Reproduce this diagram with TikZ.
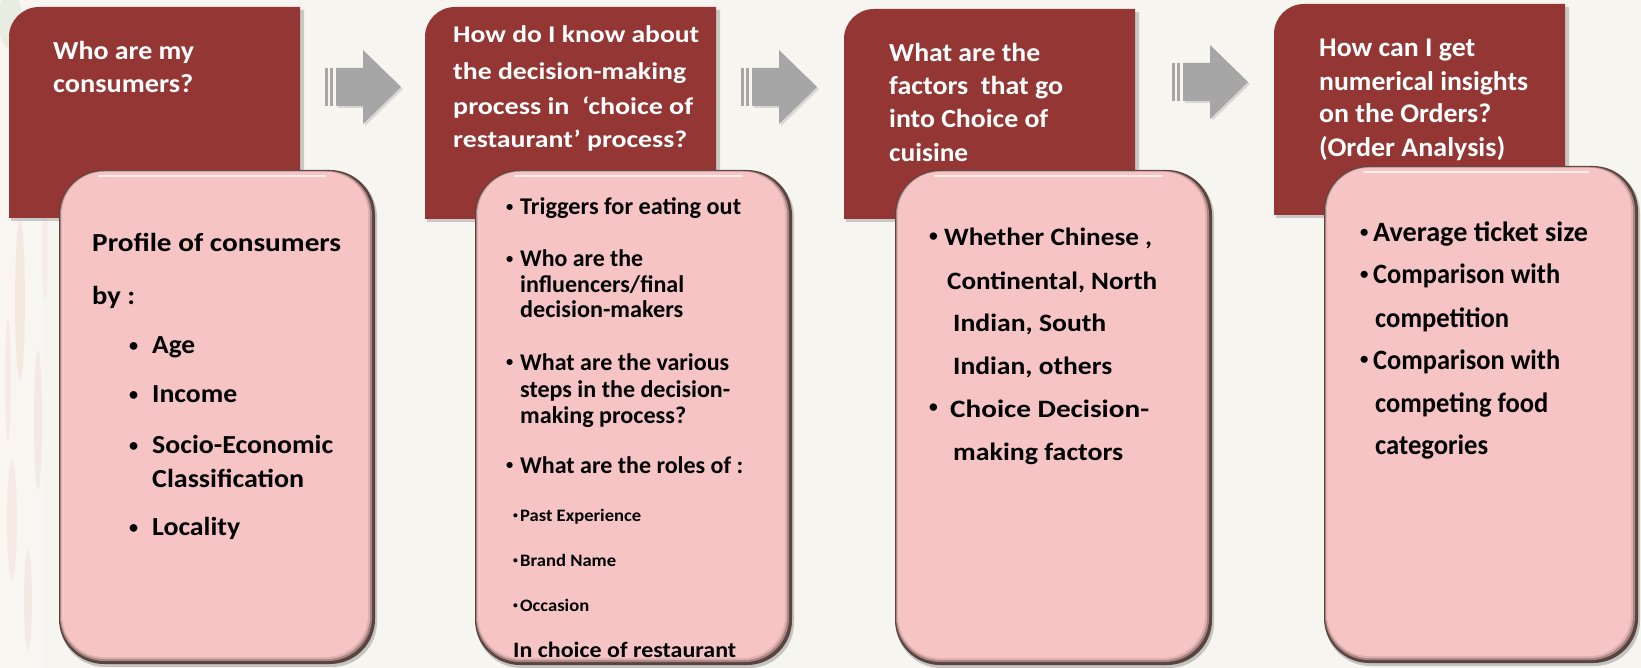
\documentclass[tikz,border=0pt]{standalone}
\usepackage{fontspec}
\setmainfont{Carlito}
\definecolor{bg}{HTML}{F6F5F0}
\definecolor{dred}{HTML}{943634}
\definecolor{pinkf}{HTML}{F6C4C4}
\definecolor{rim1}{HTML}{5A443F}
\definecolor{rim2}{HTML}{A88482}
\definecolor{rim3}{HTML}{DDB0AF}
\definecolor{arrowg}{HTML}{A6A6A6}
\definecolor{streak}{HTML}{E7B9A6}
\newcommand\redbox[4]{%
  \fill[black, opacity=0.18] (#1+2,#4+3) [rounded corners=30] -- (#1+2,#2+3) [sharp corners] -- (#3+4,#2+3) -- (#3+4,#4+3) -- cycle;
  \fill[dred] (#1,#4) [rounded corners=30] -- (#1,#2) [sharp corners] -- (#3,#2) -- (#3,#4) -- cycle;}
\newcommand\pinkbox[4]{%
  \fill[black, opacity=0.2, rounded corners=45] (#1+1,#2+2) rectangle (#3+2,#4+3);
  \fill[rim1, rounded corners=45] (#1,#2) rectangle (#3,#4);
  \fill[rim2, rounded corners=44] (#1+1,#2+1) rectangle (#3-3,#4-3);
  \fill[rim3, rounded corners=43] (#1+2,#2+1.5) rectangle (#3-5,#4-5);
  \fill[pinkf, rounded corners=42] (#1+3,#2+2) rectangle (#3-7,#4-7);
  \draw[white, opacity=0.7, line width=2.5, line cap=round] (#1+40,#2+6) -- (#3-50,#2+6);}
\newcommand\blockarrow[2]{%
  \fill[black, opacity=0.12] (#1+13,#2-17) -- (#1+40,#2-17) -- (#1+40,#2-35) -- (#1+78,#2+2) -- (#1+40,#2+39) -- (#1+40,#2+21) -- (#1+13,#2+21) -- cycle;
  \fill[arrowg] (#1,#2-19) rectangle (#1+3,#2+19);
  \fill[arrowg] (#1+5,#2-19) rectangle (#1+8,#2+19);
  \fill[arrowg] (#1+11,#2-19) -- (#1+38,#2-19) -- (#1+38,#2-37) -- (#1+76,#2) -- (#1+38,#2+37) -- (#1+38,#2+19) -- (#1+11,#2+19) -- cycle;}
\newcommand\bulchar[2]{\raisebox{#1pt}{\scalebox{#2}{•}}}
\begin{document}
\begin{tikzpicture}[x=1pt,y=-1pt,
  txt/.style={anchor=base west, inner sep=0, text=#1},
  fs/.style={font=\bfseries\fontsize{#1}{30}\selectfont},
  bulletnode/.style={anchor=base west, inner sep=0, text=black, font=\bfseries\fontsize{#1}{30}\selectfont}]
\useasboundingbox (0,0) rectangle (1641,668);
\fill[bg] (0,0) rectangle (1641,668);
% faint background picture at the left edge
\shade[left color=bg!80!brown!25, right color=bg] (0,0) rectangle (60,668);
\foreach \sx/\sy/\rx/\ry/\op in {20/300/5/80/0.22, 38/420/4/70/0.2, 12/520/5/60/0.18,
  45/250/3/50/0.15, 28/600/4/50/0.18, 8/380/3/60/0.18}
  \fill[streak, opacity=\op] (\sx,\sy) ellipse (\rx{} and \ry);
\fill[green!25!gray!40, opacity=0.3] (10,20) ellipse (12 and 28);
% boxes
\redbox{9}{7}{300}{218}
\redbox{425}{7}{716}{219}
\redbox{844}{9}{1135}{219}
\redbox{1274}{4}{1565}{215}
\pinkbox{59}{170}{375}{664}
\pinkbox{475}{170}{792}{665}
\pinkbox{895}{170}{1212}{665}
\pinkbox{1324}{166}{1638}{663}
% arrows
\blockarrow{325}{87}
\blockarrow{741}{87}
\blockarrow{1172}{82}
% box 1
\foreach \yy/\ww/\tx [count=\i] in {60/141/Who are my, 93/140/consumers?}
  \node[txt=white, fs=26] (tA\i) at (53,\yy) {\resizebox{\ww pt}{\height}{\tx}};
\foreach \xx/\yy/\ww/\tx [count=\i] in {92/252/249/Profile of consumers, 92/304/43/by :,
  152/353/43/Age, 152/402/85/Income, 152/453/181/Socio-Economic,
  152/487/152/Classification, 152/535/88/Locality}
  \node[txt=black, fs=26] (bA\i) at (\xx,\yy) {\resizebox{\ww pt}{\height}{\tx}};
\foreach \yy [count=\i] in {353,402,453,535}
  \node[bulletnode=26] (uA\i) at (129,\yy) {\bulchar{1.8}{0.7}};
% box 2
\foreach \yy/\ww/\tx [count=\i] in {43/246/How do I know about, 80/233/the decision-making,
  115/240/process in\ \ ‘choice of, 148/234/restaurant’ process?}
  \node[txt=white, fs=24] (tB\i) at (453,\yy) {\resizebox{\ww pt}{\height}{\tx}};
\foreach \yy/\ww/\tx [count=\i] in {215/221/Triggers for eating out,
  267/123/Who are the, 293/164/{influencers/final}, 318/163/decision-makers,
  370/209/What are the various, 397/210/steps in the decision-,
  423/166/making process?, 473/223/What are the roles of :}
  \node[txt=black, fs=24] (bB\i) at (520,\yy) {\resizebox{\ww pt}{\height}{\tx}};
\foreach \yy [count=\i] in {215,267,370,473}
  \node[bulletnode=24] (uB\i) at (506,\yy) {\bulchar{3.6}{0.6}};
\foreach \yy/\ww/\tx [count=\i] in {521/121/Past Experience, 566/96/Brand Name, 611/69/Occasion}
  \node[txt=black, fs=17.5] (sB\i) at (520,\yy) {\resizebox{\ww pt}{\height}{\tx}};
\foreach \yy [count=\i] in {521,566,611}
  \node[bulletnode=17.5] (vB\i) at (513,\yy) {\bulchar{3}{0.55}};
\node[txt=black, fs=22] (bB9) at (513,657) {\resizebox{223pt}{\height}{In choice of restaurant}};
% box 3
\foreach \yy/\ww/\tx [count=\i] in {62/151/What are the, 95/174/factors\ \ that go, 128/159/into Choice of, 162/79/cuisine}
  \node[txt=white, fs=26] (tC\i) at (889,\yy) {\resizebox{\ww pt}{\height}{\tx}};
\foreach \xx/\yy/\ww/\tx [count=\i] in {944/246/208/{Whether Chinese ,},
  947/290/210/{Continental, North}, 953/332/153/{Indian, South}, 953/374/159/{Indian, others},
  950/417/199/Choice Decision-, 953/460/170/making factors}
  \node[txt=black, fs=25] (bC\i) at (\xx,\yy) {\resizebox{\ww pt}{\height}{\tx}};
\foreach \yy [count=\i] in {246,417}
  \node[bulletnode=25] (uC\i) at (929,\yy) {\bulchar{4.8}{0.7}};
% box 4
\foreach \yy/\ww/\tx [count=\i] in {57/156/How can I get, 91/209/numerical insights, 123/172/on the Orders?, 157/186/(Order Analysis)}
  \node[txt=white, fs=27] (tD\i) at (1319,\yy) {\resizebox{\ww pt}{\height}{\tx}};
\foreach \xx/\yy/\ww/\tx [count=\i] in {1373/242/215/Average ticket size,
  1373/284/187/Comparison with, 1375/327/134/competition,
  1373/369/187/Comparison with, 1375/412/173/competing food, 1375/454/113/categories}
  \node[txt=black, fs=28] (bD\i) at (\xx,\yy) {\resizebox{\ww pt}{\height}{\tx}};
\foreach \yy [count=\i] in {242,284,369}
  \node[bulletnode=28] (uD\i) at (1360,\yy) {\bulchar{4.6}{0.6}};
\end{tikzpicture}
\end{document}
